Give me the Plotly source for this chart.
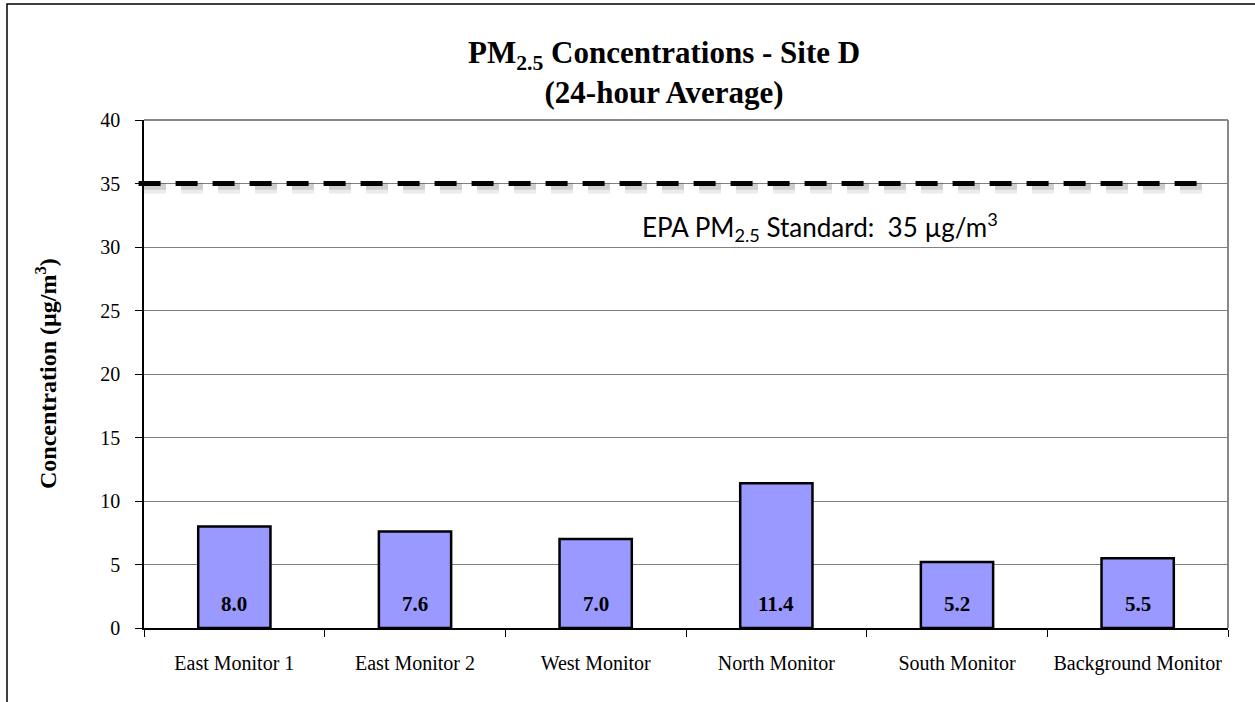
import plotly.graph_objects as go

categories = ["East Monitor 1", "East Monitor 2", "West Monitor", "North Monitor", "South Monitor", "Background Monitor"]
values = [8.0, 7.6, 7.0, 11.4, 5.2, 5.5]
standard = 35
y_ticks = [0, 5, 10, 15, 20, 25, 30, 35, 40]

W, H = 1255, 702
L, R, T, B = 144, 27, 120, 74
pw, ph = W - L - R, H - T - B


def px(sx):
    return (sx - L) / pw


def py(sy):
    return (H - B - sy) / ph


fig = go.Figure()
fig.add_trace(go.Bar(
    x=categories, y=values,
    marker=dict(color="#9999FF", line=dict(color="black", width=2.5)),
    hoverinfo="skip",
))

shapes = [
    # soft shadow of standard line
    dict(type="line", xref="x domain", yref="y", x0=0.0, x1=0.98, y0=standard - 0.35, y1=standard - 0.35,
         line=dict(color="rgba(0,0,0,0.08)", width=11, dash="22px,15px"), layer="above"),
    dict(type="line", xref="x domain", yref="y", x0=0.0, x1=0.98, y0=standard - 0.25, y1=standard - 0.25,
         line=dict(color="rgba(0,0,0,0.12)", width=6, dash="22px,15px"), layer="above"),
    dict(type="line", xref="x domain", yref="y", x0=-0.005, x1=0.98, y0=standard, y1=standard,
         line=dict(color="black", width=5, dash="22px,15px"), layer="above"),
    # outer frame
    dict(type="rect", xref="paper", yref="paper",
         x0=px(7), x1=1.5, y0=-0.5, y1=py(4),
         line=dict(color="black", width=1.5), fillcolor="rgba(0,0,0,0)", layer="below"),
    # top and right plot border (gray)
    dict(type="line", xref="paper", yref="paper", x0=0, x1=1, y0=1, y1=1, line=dict(color="#888888", width=2)),
    dict(type="line", xref="paper", yref="paper", x0=1, x1=1, y0=0, y1=1, line=dict(color="#888888", width=2)),
]

annotations = [
    dict(text="<b>PM<sub>2.5</sub> Concentrations - Site D</b><br><b>(24-hour Average)</b>",
         xref="paper", yref="paper", x=px(664), y=py(73),
         showarrow=False, xanchor="center", yanchor="middle",
         font=dict(family="Liberation Serif", size=31, color="black")),
    dict(text="EPA PM<sub>2.5</sub> Standard:  35 µg/m<sup>3</sup>",
         xref="paper", yref="paper", x=px(640), y=py(227),
         showarrow=False, xanchor="left", yanchor="middle",
         font=dict(family="Lato", size=26, color="black")),
    dict(text="<b>Concentration (µg/m<sup>3</sup>)</b>",
         xref="paper", yref="paper", x=px(46), y=py(374),
         showarrow=False, xanchor="center", yanchor="middle", textangle=-90,
         font=dict(family="Liberation Serif", size=24, color="black")),
]
for c, v in zip(categories, values):
    annotations.append(dict(
        text=f"<b>{v:.1f}</b>", x=c, y=0, xref="x", yref="y",
        showarrow=False, xanchor="center", yanchor="middle", yshift=24,
        font=dict(family="Liberation Serif", size=21, color="black"),
    ))

fig.update_layout(
    width=W, height=H,
    margin=dict(l=L, r=R, t=T, b=B),
    paper_bgcolor="white", plot_bgcolor="white",
    showlegend=False,
    bargap=0.6,
    shapes=shapes,
    annotations=annotations,
    font=dict(family="Liberation Serif", color="black"),
)
fig.update_xaxes(
    type="category", showgrid=False, showline=True, linecolor="black", linewidth=1.5,
    ticks="outside", ticklen=7, tickcolor="black", tickson="boundaries",
    tickfont=dict(family="Liberation Serif", size=20, color="black"),
    ticklabelstandoff=16,
    range=[-0.5, 5.5],
)
fig.update_yaxes(
    range=[0, 40], tickvals=y_ticks, showgrid=True, gridcolor="#808080", gridwidth=1,
    showline=True, linecolor="black", linewidth=1.5, ticks="outside", ticklen=7, tickcolor="black",
    tickfont=dict(family="Liberation Serif", size=20, color="black"), zeroline=False,
    ticklabelstandoff=11,
)

fig.write_html("out.html", config={"displayModeBar": False},
               post_script="document.body.style.margin='0';document.body.style.overflow='hidden';")
